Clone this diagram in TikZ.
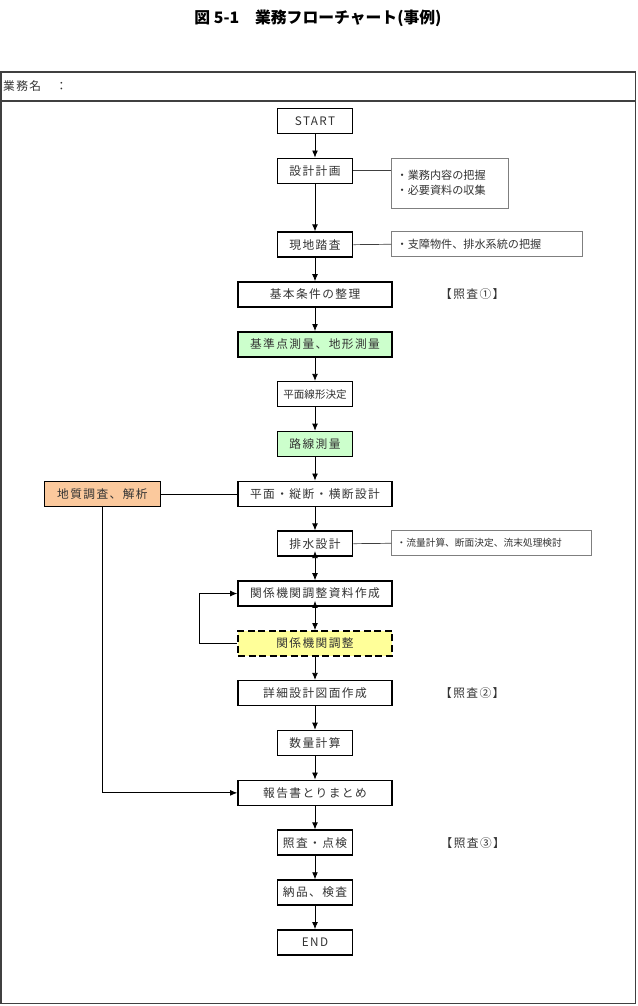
\documentclass[tikz,border=0pt]{standalone}
\usepackage{fontspec}
\setmainfont{Noto Sans CJK JP}
\newfontfamily\boxfont[LetterSpace=12]{Noto Sans CJK JP}
\usepackage{tikz}
\usetikzlibrary{positioning, arrows.meta}
\definecolor{FrameGray}{HTML}{404040}
\definecolor{MemoGray}{HTML}{7F7F7F}
\definecolor{TextGray}{HTML}{333333}
\definecolor{SurveyGreen}{HTML}{CCFFCC}
\definecolor{GeoOrange}{HTML}{FBC99D}
\definecolor{TalkYellow}{HTML}{FFFF99}

\begin{document}
\begin{tikzpicture}[x=0.03cm, y=-0.03cm, node distance=1.495cm, >={Latex[length=6pt, width=5pt]},
  every node/.style={font=\boxfont\fontsize{10pt}{12pt}\selectfont, text=TextGray}]
  \tikzstyle{task}=[rectangle, draw=black, line width=1.3pt, fill=white,
  minimum width=2.25cm, minimum height=0.75cm, inner sep=1pt]
  \tikzstyle{wide}=[task, minimum width=4.62cm]
  \tikzstyle{memo}=[rectangle, draw=MemoGray, line width=0.6pt, anchor=north west,
  align=left, inner sep=0.15cm, font=\rmfamily\fontsize{9.5pt}{12.8pt}\selectfont]
  \tikzstyle{flow}=[->, line width=0.7pt, color=black]
  \tikzstyle{link}=[line width=0.6pt, color=FrameGray]
  \useasboundingbox (0,0) rectangle (637,1006);
  \node[font=\rmfamily\bfseries\fontsize{13.5pt}{15pt}\selectfont, text=black] (title) at (318,18) {図 5-1　業務フローチャート(事例)};
  \draw[FrameGray, line width=1.2pt] (1,72) rectangle (635.5,1003.5);
  \draw[FrameGray, line width=1.2pt] (1,101) -- (635.5,101);
  \node[anchor=west, inner sep=0pt] (jobname) at (3,86) {業務名　：};
  % main column
  \node[task] (start) at (315,121) {START};
  \node[task, below of=start] (plan) {設計計画};
  \node[task, below of=plan, yshift=-0.72cm] (site) {現地踏査};
  \node[wide, below of=site] (basic) {基本条件の整理};
  \node[wide, fill=SurveyGreen, below of=basic] (control) {基準点測量、地形測量};
  \node[task, below of=control, font=\rmfamily\fontsize{9pt}{11pt}\selectfont] (align) {平面線形決定};
  \node[task, fill=SurveyGreen, below of=align] (route) {路線測量};
  \node[wide, below of=route] (design) {平面・縦断・横断設計};
  \node[task, below of=design] (drain) {排水設計};
  \node[wide, below of=drain] (docs) {関係機関調整資料作成};
  \node[wide, fill=TalkYellow, dash pattern=on 6pt off 3pt, below of=docs] (talks) {関係機関調整};
  \node[wide, below of=talks] (detail) {詳細設計図面作成};
  \node[task, below of=detail] (qty) {数量計算};
  \node[wide, below of=qty] (report) {報告書とりまとめ};
  \node[task, below of=report] (check) {照査・点検};
  \node[task, below of=check] (deliver) {納品、検査};
  \node[task, below of=deliver] (finish) {END};
  % side boxes and labels
  \node[task, fill=GeoOrange, minimum width=3.48cm, left=2.28cm of design] (geo) {地質調査、解析};
  \node[memo, text width=3.2cm, minimum height=1.5cm] (memoplan) at ([xshift=1.14cm]plan.north east) {・業務内容の把握\\・必要資料の収集};
  \node[memo, text width=5.43cm, minimum height=0.75cm] (memosite) at ([xshift=1.14cm]site.north east) {・支障物件、排水系統の把握};
  \node[memo, text width=5.7cm, minimum height=0.75cm, font=\rmfamily\fontsize{8.3pt}{10pt}\selectfont] (memodrain) at ([xshift=1.14cm]drain.north east) {・流量計算、断面決定、流末処理検討};
  \node[right=1.3cm of basic] (check1) {【照査①】};
  \node[right=1.3cm of detail] (check2) {【照査②】};
  \node[right=2.5cm of check] (check3) {【照査③】};
  % connectors
  \draw[flow] (start) -- (plan);
  \draw[flow] (plan) -- (site);
  \draw[flow] (site) -- (basic);
  \draw[flow] (basic) -- (control);
  \draw[flow] (control) -- (align);
  \draw[flow] (align) -- (route);
  \draw[flow] (route) -- (design);
  \draw[flow] (design) -- (drain);
  \draw[flow, <->, shorten <=-5pt] (drain) -- (docs);
  \draw[flow, <->, shorten <=-5pt] (docs) -- (talks);
  \draw[flow] (talks) -- (detail);
  \draw[flow] (detail) -- (qty);
  \draw[flow] (qty) -- (report);
  \draw[flow] (report) -- (check);
  \draw[flow] (check) -- (deliver);
  \draw[flow] (deliver) -- (finish);
  \draw[flow] (talks.west) -- ++(-1.14cm,0) |- (docs.west);
  \draw[flow] (geo.south) |- (report.west);
  \draw[double, double distance=2.2pt, line width=0.5pt] ([yshift=1pt]geo.east) -- ([yshift=1pt]design.west);
  \draw[link] (plan.east) -- (plan.east -| memoplan.west);
  \draw[link] (site.east) -- (memosite.west);
  \draw[link] (drain.east) -- (memodrain.west);
\end{tikzpicture}
\end{document}
